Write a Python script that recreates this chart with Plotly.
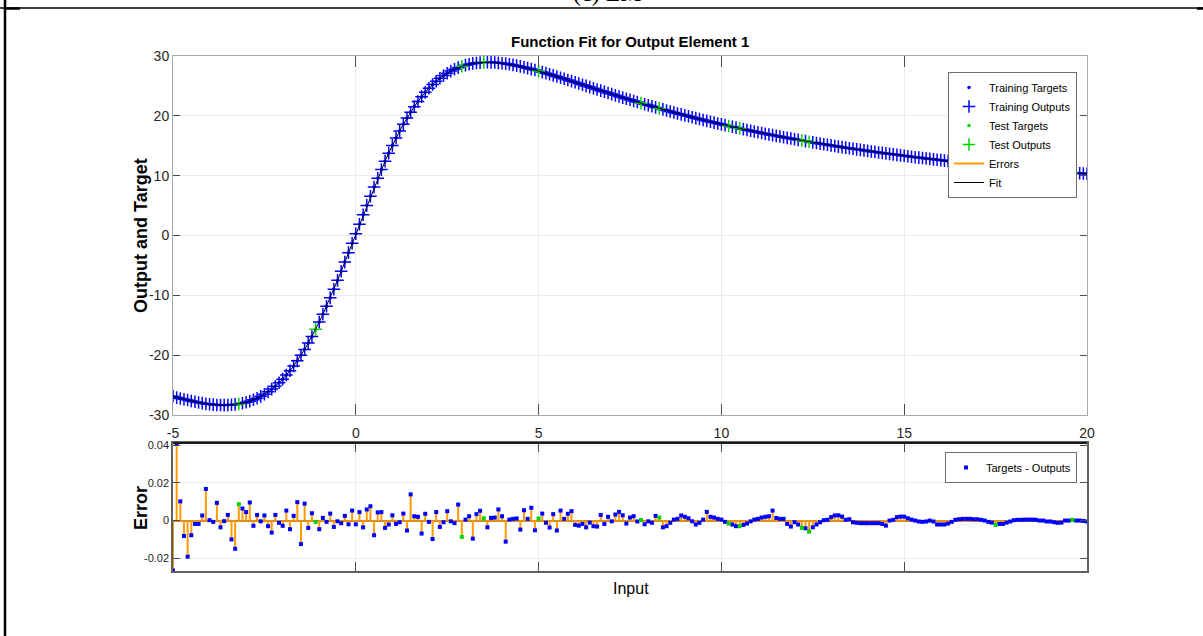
import numpy as np
import plotly.graph_objects as go

# ---- data -------------------------------------------------------------
input_start = -5.0
input_step = 0.1

targets = [
    -26.88, -27.05, -27.22, -27.37, -27.52, -27.66, -27.79, -27.91, -28.02, -28.12,
    -28.20, -28.26, -28.31, -28.34, -28.35, -28.34, -28.30, -28.24, -28.15, -28.03,
    -27.87, -27.68, -27.46, -27.19, -26.88, -26.53, -26.13, -25.68, -25.18, -24.62,
    -24.01, -23.33, -22.60, -21.80, -20.94, -20.02, -19.03, -17.98, -16.87, -15.69,
    -14.46, -13.16, -11.82, -10.42, -8.98, -7.50, -5.98, -4.44, -2.87, -1.29,
    0.30, 1.89, 3.47, 5.04, 6.58, 8.10, 9.58, 11.02, 12.42, 13.76,
    15.06, 16.29, 17.47, 18.58, 19.63, 20.62, 21.54, 22.40, 23.20, 23.93,
    24.61, 25.22, 25.78, 26.28, 26.73, 27.13, 27.48, 27.79, 28.06, 28.28,
    28.47, 28.63, 28.75, 28.84, 28.90, 28.94, 28.95, 28.94, 28.91, 28.86,
    28.80, 28.72, 28.62, 28.51, 28.39, 28.26, 28.12, 27.97, 27.82, 27.65,
    27.48, 27.31, 27.13, 26.95, 26.76, 26.57, 26.38, 26.19, 25.99, 25.80,
    25.60, 25.40, 25.20, 25.00, 24.80, 24.61, 24.41, 24.21, 24.02, 23.82,
    23.63, 23.43, 23.24, 23.05, 22.86, 22.68, 22.49, 22.31, 22.12, 21.94,
    21.77, 21.59, 21.41, 21.24, 21.07, 20.90, 20.73, 20.57, 20.40, 20.24,
    20.08, 19.92, 19.77, 19.61, 19.46, 19.31, 19.16, 19.01, 18.87, 18.72,
    18.58, 18.44, 18.31, 18.17, 18.03, 17.90, 17.77, 17.64, 17.51, 17.39,
    17.26, 17.14, 17.01, 16.89, 16.78, 16.66, 16.54, 16.43, 16.31, 16.20,
    16.09, 15.98, 15.87, 15.77, 15.66, 15.56, 15.46, 15.35, 15.25, 15.16,
    15.06, 14.96, 14.86, 14.77, 14.68, 14.59, 14.49, 14.40, 14.31, 14.23,
    14.14, 14.05, 13.97, 13.88, 13.80, 13.72, 13.64, 13.56, 13.48, 13.40,
    13.32, 13.24, 13.17, 13.09, 13.02, 12.94, 12.87, 12.80, 12.73, 12.66,
    12.59, 12.52, 12.45, 12.38, 12.32, 12.25, 12.19, 12.12, 12.06, 11.99,
    11.93, 11.87, 11.81, 11.75, 11.68, 11.63, 11.57, 11.51, 11.45, 11.39,
    11.34, 11.28, 11.22, 11.17, 11.11, 11.06, 11.01, 10.95, 10.90, 10.85,
    10.80, 10.75, 10.69, 10.64, 10.59, 10.55, 10.50, 10.45, 10.40, 10.35,
    10.31,
]

# errors = targets - outputs
errors = [
    -0.0265, 0.0410, 0.0102, -0.0082, -0.0192, -0.0078, -0.0018, -0.0018, 0.0027, 0.0168,
    0.0002, -0.0007, 0.0094, -0.0036, -0.0003, 0.0030, -0.0100, -0.0150, 0.0087, 0.0064,
    0.0045, 0.0096, -0.0028, 0.0030, -0.0004, 0.0027, -0.0030, -0.0064, 0.0030, -0.0012,
    -0.0028, 0.0053, -0.0046, 0.0025, 0.0098, -0.0125, 0.0090, -0.0039, 0.0039, -0.0007,
    -0.0046, 0.0014, -0.0007, 0.0037, -0.0034, -0.0004, -0.0014, 0.0025, -0.0020, 0.0053,
    -0.0020, 0.0045, -0.0036, 0.0059, 0.0076, -0.0078, 0.0043, 0.0045, -0.0039, -0.0021,
    0.0028, -0.0018, -0.0009, 0.0037, -0.0053, 0.0139, 0.0023, 0.0020, -0.0069, 0.0036,
    -0.0007, -0.0098, 0.0045, -0.0034, -0.0009, 0.0050, -0.0004, -0.0014, 0.0085, -0.0087,
    0.0005, 0.0023, -0.0096, 0.0034, 0.0052, 0.0012, -0.0036, 0.0014, 0.0016, 0.0059,
    0.0023, -0.0112, 0.0005, 0.0009, 0.0011, -0.0048, 0.0055, 0.0009, 0.0068, -0.0052,
    0.0011, 0.0037, -0.0012, -0.0037, 0.0034, -0.0053, 0.0053, 0.0009, 0.0036, 0.0050,
    -0.0023, -0.0027, -0.0018, -0.0036, -0.0011, -0.0030, -0.0032, 0.0030, -0.0018, 0.0020,
    -0.0004, 0.0032, 0.0046, 0.0028, -0.0016, 0.0016, 0.0023, -0.0005, 0.0003, -0.0020,
    -0.0004, -0.0012, 0.0025, 0.0016, -0.0036, -0.0030, -0.0012, 0.0005, 0.0009, 0.0027,
    0.0020, 0.0012, -0.0004, -0.0021, -0.0012, 0.0005, 0.0046, 0.0020, 0.0016, 0.0009,
    0.0005, -0.0007, -0.0016, -0.0021, -0.0030, -0.0030, -0.0023, -0.0016, -0.0004, 0.0005,
    0.0009, 0.0016, 0.0020, 0.0023, 0.0053, 0.0014, 0.0009, 0.0009, -0.0018, -0.0032,
    -0.0009, -0.0021, -0.0039, -0.0041, -0.0059, -0.0036, -0.0021, -0.0009, 0.0002, 0.0004,
    0.0018, 0.0027, 0.0028, 0.0021, 0.0004, 0.0007, -0.0009, -0.0012, -0.0014, -0.0014,
    -0.0014, -0.0014, -0.0014, -0.0014, -0.0018, -0.0027, 0.0000, 0.0004, 0.0018, 0.0021,
    0.0021, 0.0012, 0.0005, 0.0000, -0.0005, -0.0007, -0.0005, 0.0000, -0.0005, -0.0021,
    -0.0021, -0.0021, -0.0016, -0.0007, 0.0004, 0.0007, 0.0009, 0.0009, 0.0009, 0.0007,
    0.0007, 0.0004, 0.0000, -0.0007, -0.0011, -0.0023, -0.0018, -0.0018, -0.0011, -0.0005,
    0.0002, 0.0004, 0.0004, 0.0005, 0.0005, 0.0005, 0.0004, 0.0000, 0.0000, -0.0005,
    -0.0005, -0.0009, -0.0012, -0.0011, 0.0000, 0.0000, 0.0004, 0.0000, 0.0000, -0.0002,
    -0.0005,
]

test_inputs = [-3.2, -1.1, 2.9, 3.5, 5.0, 7.8, 8.3, 10.2, 10.5, 12.2, 12.4, 17.5, 19.6]

x_ticks = [-5, 0, 5, 10, 15, 20]
x_ticktext = ["-5", "0", "5", "10", "15", "20"]
y_ticks = [-30, -20, -10, 0, 10, 20, 30]
y_ticktext = ["-30", "-20", "-10", "0", "10", "20", "30"]
err_ticks = [-0.02, 0, 0.02, 0.04]
err_ticktext = ["-0.02", "0", "0.02", "0.04"]

# ---- derived arrays ---------------------------------------------------
tgt = np.array(targets)
err = np.array(errors)
inputs = np.round(input_start + input_step * np.arange(len(tgt)), 1)
outputs = tgt - err
is_test = np.isin(inputs, np.round(test_inputs, 1))
is_train = ~is_test

# ---- styling ----------------------------------------------------------
SANS = "Liberation Sans, Arial, sans-serif"
BLUE = "#0000ff"
GREEN = "#00d400"
ORANGE = "#ff9a00"
TICK_COLOR = "#262626"
GRID = "#ebebeb"

W, H = 1203, 636
M_L, M_R, M_T, M_B = 173, 116, 56, 65
PLOT_H = H - M_T - M_B


def px_x(px):
    return (px - M_L) / (W - M_L - M_R)


def px_y(py):
    return (H - M_B - py) / PLOT_H


top_domain = [px_y(415), 1.0]
bot_domain = [0.0, px_y(443)]

fig = go.Figure()

# top panel: targets / outputs
fig.add_trace(go.Scatter(
    x=inputs[is_train], y=tgt[is_train], mode="markers", name="Training Targets",
    marker=dict(symbol="circle", size=3.5, color=BLUE),
    xaxis="x", yaxis="y", legend="legend"))
fig.add_trace(go.Scatter(
    x=inputs[is_train], y=outputs[is_train], mode="markers", name="Training Outputs",
    marker=dict(symbol="cross-thin", size=9, line=dict(color=BLUE, width=1.5)),
    xaxis="x", yaxis="y", legend="legend"))
fig.add_trace(go.Scatter(
    x=inputs[is_test], y=tgt[is_test], mode="markers", name="Test Targets",
    marker=dict(symbol="circle", size=3.5, color=GREEN),
    xaxis="x", yaxis="y", legend="legend"))
fig.add_trace(go.Scatter(
    x=inputs[is_test], y=outputs[is_test], mode="markers", name="Test Outputs",
    marker=dict(symbol="cross-thin", size=9, line=dict(color=GREEN, width=1.5)),
    xaxis="x", yaxis="y", legend="legend"))

# bottom panel: error stems
stem_x, stem_y = [], []
for xi, ei in zip(inputs, err):
    stem_x += [xi, xi, None]
    stem_y += [0.0, ei, None]
fig.add_trace(go.Scatter(
    x=stem_x, y=stem_y, mode="lines", name="Errors",
    line=dict(color=ORANGE, width=2),
    xaxis="x2", yaxis="y2", legend="legend"))

# fit curve
fig.add_trace(go.Scatter(
    x=inputs, y=outputs, mode="lines", name="Fit",
    line=dict(color="#000000", width=1),
    xaxis="x", yaxis="y", legend="legend"))

# error markers
fig.add_trace(go.Scatter(
    x=inputs[is_train], y=err[is_train], mode="markers", name="Targets - Outputs",
    marker=dict(symbol="square", size=4, color=BLUE),
    xaxis="x2", yaxis="y2", legend="legend2"))
fig.add_trace(go.Scatter(
    x=inputs[is_test], y=err[is_test], mode="markers", name="Test errors",
    marker=dict(symbol="square", size=4, color=GREEN), showlegend=False,
    xaxis="x2", yaxis="y2"))

axis_common = dict(
    showgrid=True, gridcolor=GRID, gridwidth=1, zeroline=False,
    ticks="inside", mirror="ticks", showline=True,
    tickfont=dict(family=SANS, size=14, color=TICK_COLOR),
)

fig.update_layout(
    width=W, height=H,
    margin=dict(l=M_L, r=M_R, t=M_T, b=M_B),
    paper_bgcolor="white", plot_bgcolor="white",
    showlegend=True,
    xaxis=dict(domain=[0, 1], anchor="y", range=[-5, 20], tickvals=x_ticks,
               ticktext=x_ticktext, ticklen=11, tickcolor="#4d4d4d",
               linecolor="#a8a8a8", linewidth=1, ticklabelstandoff=5,
               **axis_common),
    yaxis=dict(domain=top_domain, anchor="x", range=[-30, 30], tickvals=y_ticks,
               ticktext=y_ticktext, ticklen=7, tickcolor="#4d4d4d",
               linecolor="#a8a8a8", linewidth=1, **axis_common),
    xaxis2=dict(domain=[0, 1], anchor="y2", range=[-5, 20], tickvals=x_ticks,
                showticklabels=False, ticklen=9, tickcolor="#4d4d4d",
                linecolor="#606060", linewidth=1.5, **axis_common),
    yaxis2=dict(domain=bot_domain, anchor="x2", range=[-0.0268, 0.0412],
                tickvals=err_ticks, ticktext=err_ticktext, ticklen=7,
                tickcolor="#4d4d4d", linecolor="#606060", linewidth=1.5,
                **{**axis_common, "zeroline": True,
                   "tickfont": dict(family=SANS, size=11, color=TICK_COLOR)},
                zerolinecolor="#d98c1a", zerolinewidth=1.5),
    legend=dict(x=px_x(1077), y=px_y(72), xanchor="right", yanchor="top",
                bgcolor="white", bordercolor="#6e6e6e", borderwidth=1,
                font=dict(family=SANS, size=11, color="#000000"),
                tracegroupgap=0),
    legend2=dict(x=px_x(1077), y=px_y(452), xanchor="right", yanchor="top",
                 bgcolor="white", bordercolor="#6e6e6e", borderwidth=1,
                 font=dict(family=SANS, size=11, color="#000000")),
)

annotations = [
    dict(text="<b>Function Fit for Output Element 1</b>", x=0.5, y=px_y(41),
         xref="paper", yref="paper", showarrow=False, xanchor="center",
         yanchor="middle", font=dict(family=SANS, size=15, color="#000000")),
    dict(text="<b>Output and Target</b>", x=px_x(141), y=px_y(236),
         xref="paper", yref="paper", showarrow=False, textangle=-90,
         xanchor="center", yanchor="middle",
         font=dict(family=SANS, size=18, color="#000000")),
    dict(text="<b>Error</b>", x=px_x(141), y=px_y(508),
         xref="paper", yref="paper", showarrow=False, textangle=-90,
         xanchor="center", yanchor="middle",
         font=dict(family=SANS, size=18, color="#000000")),
    dict(text="Input", x=px_x(631), y=px_y(588),
         xref="paper", yref="paper", showarrow=False,
         xanchor="center", yanchor="middle",
         font=dict(family=SANS, size=16, color="#000000")),
    dict(text="(c) LM", x=px_x(607), y=px_y(-7),
         xref="paper", yref="paper", showarrow=False,
         xanchor="center", yanchor="middle",
         font=dict(family="Liberation Serif, Times New Roman, serif", size=24,
                   color="#000000")),
]
fig.update_layout(annotations=annotations)

shapes = [
    # page frame
    dict(type="line", xref="paper", yref="paper", x0=px_x(0), x1=px_x(1203),
         y0=px_y(8), y1=px_y(8), line=dict(color="#000000", width=1.5)),
    dict(type="line", xref="paper", yref="paper", x0=px_x(5), x1=px_x(5),
         y0=px_y(0), y1=px_y(636), line=dict(color="#000000", width=2.5)),
    dict(type="line", xref="paper", yref="paper", x0=px_x(5), x1=px_x(20),
         y0=px_y(8.5), y1=px_y(8.5), line=dict(color="#000000", width=2.5)),
    dict(type="line", xref="paper", yref="paper", x0=px_x(1197), x1=px_x(1203),
         y0=px_y(8.5), y1=px_y(8.5), line=dict(color="#000000", width=2.5)),
    # heavy top edge of the error panel
    dict(type="line", xref="paper", yref="paper", x0=0, x1=1,
         y0=bot_domain[1], y1=bot_domain[1],
         line=dict(color="#1a1a1a", width=2)),
]
fig.update_layout(shapes=shapes)

fig.write_html("out.html")
